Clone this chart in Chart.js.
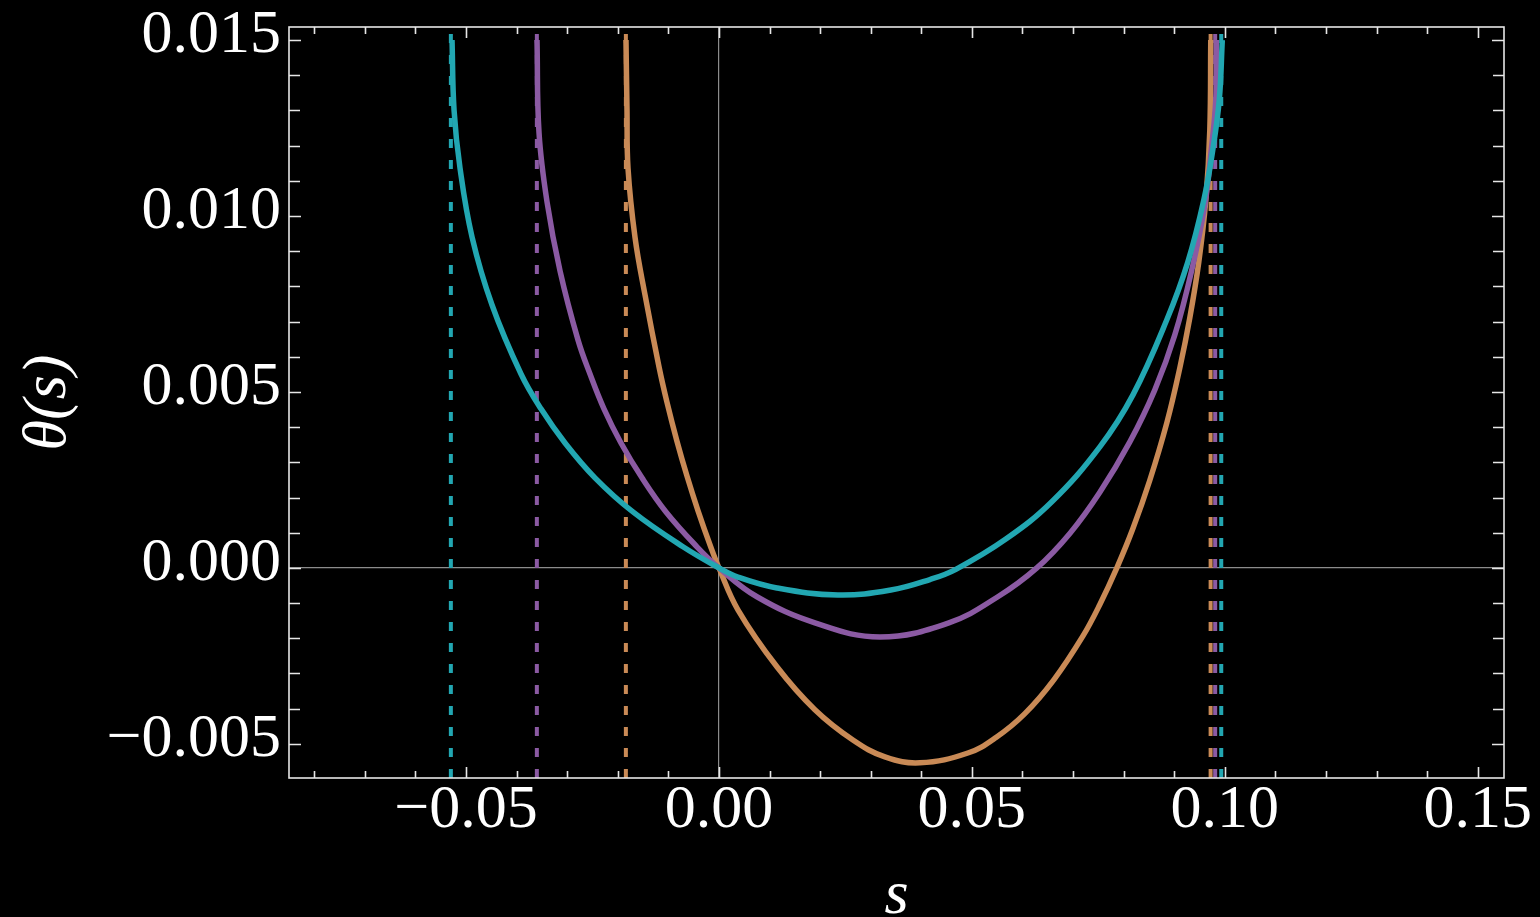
<!DOCTYPE html>
<html>
<head>
<meta charset="utf-8">
<script src="https://cdn.jsdelivr.net/npm/chart.js@4.4.0/dist/chart.umd.min.js"></script>
<style>
  html, body { margin: 0; background: #000; }
  #wrap { width: 1540px; height: 917px; }
</style>
</head>
<body>
<div id="wrap"><canvas id="c"></canvas></div>
<script>
// ─── Data ────────────────────────────────────────────────────────────────────
const xMajor = [-0.05, 0, 0.05, 0.10, 0.15];
const yMajor = [-0.005, 0, 0.005, 0.010, 0.015];
const xMinor = [-0.08,-0.07,-0.06,-0.05,-0.04,-0.03,-0.02,-0.01,0,0.01,0.02,0.03,0.04,0.05,
                0.06,0.07,0.08,0.09,0.10,0.11,0.12,0.13,0.14,0.15];
const yMinor = [-0.005,-0.004,-0.003,-0.002,-0.001,0,0.001,0.002,0.003,0.004,0.005,0.006,
                0.007,0.008,0.009,0.010,0.011,0.012,0.013,0.014,0.015];

const cyanS = [-0.05277,-0.05237,-0.05119,-0.04881,-0.04486,-0.03913,-0.03518,-0.03043,-0.02451,-0.01700,-0.00711,0,
               0.00375,0.01146,0.02352,0.03399,0.04170,0.04684,0.05672,0.06581,0.07530,0.08182,0.08854,0.09269,0.09585,0.09763,0.09891,0.09951];
const cyanT = [0.0150,0.01301,0.01136,0.00940,0.00747,0.00551,0.00452,0.00355,0.00256,0.00159,0.00060,0,
               -0.00026,-0.00057,-0.00077,-0.00063,-0.00033,-0.00004,0.00082,0.00188,0.00344,0.00491,0.00705,0.00869,0.01045,0.01188,0.01330,0.0150];

const purpS = [-0.03597,-0.03557,-0.03399,-0.03142,-0.02787,-0.02549,-0.02273,-0.01937,-0.01522,-0.01047,-0.00435,0,
               0.00751,0.01897,0.03182,0.04545,0.05514,0.06285,0.06937,0.07530,0.08123,0.08617,0.09012,0.09348,0.09605,0.09733,0.09822,0.09832];
const purpT = [0.0150,0.01236,0.01040,0.00844,0.00648,0.00551,0.00452,0.00355,0.00256,0.00159,0.00060,0,
               -0.00082,-0.00156,-0.00196,-0.00156,-0.00082,0,0.00098,0.00215,0.00358,0.00506,0.00662,0.00847,0.01031,0.01188,0.01330,0.0150];

const orngS = [-0.01838,-0.01818,-0.01798,-0.01660,-0.01462,-0.01186,-0.01028,-0.00830,-0.00632,-0.00415,-0.00158,0,
               0.00375,0.01146,0.01897,0.02648,0.03281,0.03972,0.04921,0.05484,0.06047,0.06620,0.07194,0.07530,0.07866,0.08182,0.08518,
               0.08854,0.09111,0.09308,0.09486,0.09625,0.09704,0.09723];
const orngT = [0.0150,0.01301,0.01136,0.00940,0.00776,0.00572,0.00471,0.00360,0.00261,0.00163,0.00058,0,
               -0.00119,-0.00281,-0.00403,-0.00489,-0.00537,-0.00554,-0.00526,-0.00481,-0.00414,-0.00318,-0.00194,-0.00104,0,0.00111,0.00249,
               0.00412,0.00568,0.00710,0.00869,0.01045,0.01244,0.0150];

// asymptotes (left, right) for each curve
const cyanAsym = [-0.0530, 0.0993];
const purpAsym = [-0.0360, 0.0981];
const orngAsym = [-0.0184, 0.0972];

const X_MIN = -0.085, X_MAX = 0.1552;
const Y_MIN = -0.00597, Y_MAX = 0.01537;

// ─── Styling ────────────────────────────────────────────────────────────────
const COL = { cyan:'#22a7b2', purple:'#8b5aa3', orange:'#c98a56', frame:'#e6e6e6', zero:'#8c8c8c' };
const FONT = "'Liberation Serif', 'DejaVu Serif', serif";

const pts = (xs, ys) => xs.map((x, i) => ({ x, y: ys[i] }));
const curve = (label, xs, ys, color) => ({
  label, data: pts(xs, ys), borderColor: color, borderWidth: 5.5,
  showLine: true, pointRadius: 0, tension: 0.4, fill: false
});
const asym = (label, s, color) => ({
  label, data: [{ x: s, y: Y_MIN }, { x: s, y: Y_MAX }], borderColor: color, borderWidth: 4,
  borderDash: [9, 12], showLine: true, pointRadius: 0, fill: false
});

// frame + inward ticks on all four sides
const frameTicks = {
  id: 'frameTicks',
  afterDatasetsDraw(chart) {
    const { ctx, chartArea: a, scales: { x, y } } = chart;
    ctx.save();
    ctx.strokeStyle = COL.frame;
    ctx.lineWidth = 1.6;
    ctx.beginPath();
    xMinor.forEach(v => {
      const px = Math.round(x.getPixelForValue(v)) + 0.5;
      const len = xMajor.some(m => Math.abs(m - v) < 1e-9) ? 11 : 7;
      ctx.moveTo(px, a.bottom); ctx.lineTo(px, a.bottom - len);
      ctx.moveTo(px, a.top);    ctx.lineTo(px, a.top + len);
    });
    yMinor.forEach(v => {
      const py = Math.round(y.getPixelForValue(v)) + 0.5;
      const len = yMajor.some(m => Math.abs(m - v) < 1e-9) ? 12 : 11;
      ctx.moveTo(a.left, py);  ctx.lineTo(a.left + len, py);
      ctx.moveTo(a.right, py); ctx.lineTo(a.right - len, py);
    });
    ctx.stroke();
    ctx.strokeRect(a.left, a.top, a.right - a.left, a.bottom - a.top);
    ctx.restore();
  }
};

const fmt = d => v => (v < 0 ? '\u2212' : '') + Math.abs(v).toFixed(d);
const zeroGrid = c => (c.tick && Math.abs(c.tick.value) < 1e-9) ? COL.zero : 'transparent';

new Chart(document.getElementById('c'), {
  type: 'scatter',
  data: {
    datasets: [
      curve('cyan', cyanS, cyanT, COL.cyan),
      curve('purple', purpS, purpT, COL.purple),
      curve('orange', orngS, orngT, COL.orange),
      asym('cyanL', cyanAsym[0], COL.cyan),
      asym('cyanR', cyanAsym[1], COL.cyan),
      asym('purpL', purpAsym[0], COL.purple),
      asym('purpR', purpAsym[1], COL.purple),
      asym('orngL', orngAsym[0], COL.orange),
      asym('orngR', orngAsym[1], COL.orange),
    ]
  },
  options: {
    responsive: true, maintainAspectRatio: false, animation: false,
    layout: { padding: { top: 27, right: 36, left: 0, bottom: 0 } },
    plugins: { legend: { display: false }, tooltip: { enabled: false } },
    scales: {
      x: {
        type: 'linear', min: X_MIN, max: X_MAX,
        afterBuildTicks: s => { s.ticks = xMajor.map(v => ({ value: v })); },
        afterFit: s => { s.height = 139; s.paddingLeft = 0; s.paddingRight = 0; },
        grid: { color: zeroGrid, lineWidth: 1.2, drawTicks: false },
        border: { display: false },
        ticks: { color: '#fff', font: { family: FONT, size: 62, lineHeight: 1 }, padding: 2, maxRotation: 0, callback: fmt(2) },
        title: { display: true, text: 's', color: '#fff', font: { family: FONT, size: 62, style: 'italic', lineHeight: 0.65 }, padding: { top: 0, bottom: 0 } }
      },
      y: {
        type: 'linear', min: Y_MIN, max: Y_MAX,
        afterBuildTicks: s => { s.ticks = yMajor.map(v => ({ value: v })); },
        afterFit: s => { s.width = 289; s.paddingTop = 0; s.paddingBottom = 0; },
        grid: { color: zeroGrid, lineWidth: 1.2, drawTicks: false },
        border: { display: false },
        ticks: { color: '#fff', font: { family: FONT, size: 62 }, padding: 8, labelOffset: -4, callback: fmt(3) },
        title: { display: true, text: '\u03b8(s)', color: '#fff', font: { family: FONT, size: 62, style: 'italic' }, padding: { top: 12, bottom: 0 } }
      }
    }
  },
  plugins: [frameTicks]
});
</script>
</body>
</html>
